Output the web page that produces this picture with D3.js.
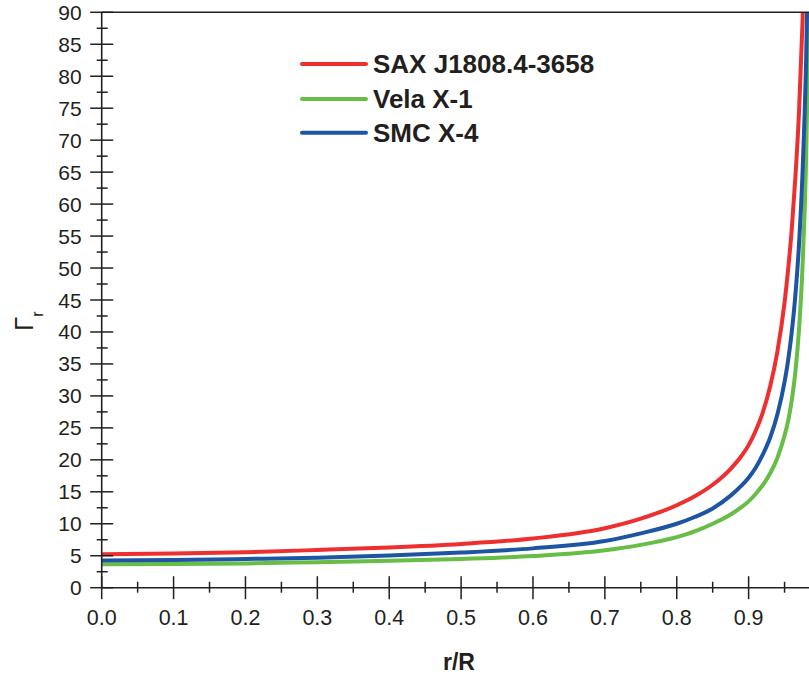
<!DOCTYPE html>
<html>
<head>
<meta charset="utf-8">
<script src="https://cdn.jsdelivr.net/npm/d3@7"></script>
<style>
  body { margin: 0; background: #fff; }
  text { font-family: Arial, "Liberation Sans", sans-serif; fill: #231f20; }
</style>
</head>
<body>
<svg id="canvas"></svg>
<script>
// r/R grid and Gamma_r
const rGrid = [0, 0.1, 0.2, 0.3, 0.4, 0.5, 0.6, 0.7, 0.75, 0.8, 0.825, 0.85, 0.875, 0.89, 0.9, 0.91, 0.92, 0.93, 0.94, 0.95, 0.955, 0.96, 0.965, 0.97, 0.975, 0.98, 0.984]
const saxJ1808 = [5.25, 5.35, 5.55, 5.9, 6.3, 6.85, 7.7, 9.3, 10.8, 12.9, 14.3, 16.1, 18.6, 20.6, 22.3, 24.6, 27.5, 31.5, 36.9, 44.6, 49.8, 56.1, 64.1, 74.1, 88.5, 109, 133]
const velaX1 = [3.66, 3.7, 3.8, 4.0, 4.2, 4.5, 4.95, 5.85, 6.7, 7.9, 8.8, 10.0, 11.45, 12.6, 13.5, 14.7, 16.1, 17.9, 20.3, 23.8, 26.1, 29.3, 33.7, 40.2, 50.3, 67, 92]
const smcX4 = [4.25, 4.33, 4.5, 4.7, 5.05, 5.5, 6.15, 7.3, 8.5, 10.0, 11.06, 12.4, 14.4, 15.95, 17.2, 18.8, 20.9, 23.5, 27.1, 32.2, 35.6, 40, 45.7, 53.5, 64.9, 82.6, 106]

const seriesNames = ["SAX J1808.4-3658", "Vela X-1", "SMC X-4"]
const seriesColors = ["#ee2f30", "#67bd46", "#1d55a4"]
const seriesValues = [saxJ1808, velaX1, smcX4]

const yTicks = d3.range(0, 91, 5)
const xTicks = d3.range(0, 10).map(i => i / 10)

const width = 809
const height = 678
const plotLeft = 101.7, plotTop = 12.3, plotBottom = 587.7, plotRight = 809

const svg = d3.select("#canvas").attr("width", width).attr("height", height)

const x = d3.scaleLinear().domain([0, 0.984]).range([plotLeft, plotRight])
const y = d3.scaleLinear().domain([0, 90]).range([plotBottom, plotTop])

const ink = "#231f20"

svg.append("clipPath").attr("id", "plot")
  .append("rect")
  .attr("x", plotLeft).attr("y", plotTop)
  .attr("width", plotRight - plotLeft).attr("height", plotBottom - plotTop)

// curves
const line = d3.line()
  .x((d, i) => x(rGrid[i]))
  .y(d => y(d))
  .curve(d3.curveMonotoneX)

svg.append("g")
  .attr("clip-path", "url(#plot)")
  .selectAll("path")
  .data(seriesValues)
  .enter().append("path")
  .attr("d", d => line(d))
  .attr("fill", "none")
  .attr("stroke", (d, i) => seriesColors[i])
  .attr("stroke-width", 4)

// y axis, ticks crossing the line
const yAxis = svg.append("g").attr("transform", `translate(${plotLeft},0)`)
yAxis.append("line")
  .attr("x1", 0).attr("x2", 0).attr("y1", y(0)).attr("y2", y(90))
  .attr("stroke", ink).attr("stroke-width", 1.6)
yAxis.selectAll(".major").data(yTicks).enter().append("line")
  .attr("x1", -11.5).attr("x2", 11.5)
  .attr("y1", d => y(d)).attr("y2", d => y(d))
  .attr("stroke", ink).attr("stroke-width", 1.5)
yAxis.selectAll(".minor").data(yTicks.slice(0, -1).map(d => d + 2.5)).enter().append("line")
  .attr("x1", -5).attr("x2", 6)
  .attr("y1", d => y(d)).attr("y2", d => y(d))
  .attr("stroke", ink).attr("stroke-width", 1.5)
yAxis.selectAll("text").data(yTicks).enter().append("text")
  .attr("x", -20).attr("y", d => y(d) + 7.5)
  .attr("text-anchor", "end")
  .attr("font-size", 21)
  .text(d => d)

// x axis
const xAxis = svg.append("g").attr("transform", `translate(0,${plotBottom})`)
xAxis.append("line")
  .attr("x1", x(0)).attr("x2", plotRight).attr("y1", 0).attr("y2", 0)
  .attr("stroke", ink).attr("stroke-width", 1.6)
xAxis.selectAll(".major").data(xTicks).enter().append("line")
  .attr("x1", d => x(d)).attr("x2", d => x(d))
  .attr("y1", -11.5).attr("y2", 11.5)
  .attr("stroke", ink).attr("stroke-width", 1.5)
xAxis.selectAll(".minor").data(xTicks.map(d => d + 0.05)).enter().append("line")
  .attr("x1", d => x(d)).attr("x2", d => x(d))
  .attr("y1", -6).attr("y2", 5)
  .attr("stroke", ink).attr("stroke-width", 1.5)
xAxis.selectAll("text").data(xTicks).enter().append("text")
  .attr("x", d => x(d)).attr("y", 37.5)
  .attr("text-anchor", "middle")
  .attr("font-size", 21.5)
  .text(d => d.toFixed(1))

// top frame line
svg.append("line")
  .attr("x1", plotLeft).attr("x2", plotRight).attr("y1", plotTop).attr("y2", plotTop)
  .attr("stroke", ink).attr("stroke-width", 1.6)

// axis titles
svg.append("text")
  .attr("x", 459).attr("y", 670)
  .attr("text-anchor", "middle")
  .attr("font-size", 23).attr("font-weight", "bold")
  .text("r/R")

const yTitle = svg.append("text")
  .attr("transform", "translate(33,331) rotate(-90)")
  .attr("font-family", "'Liberation Serif', 'Times New Roman', serif")
yTitle.append("tspan").attr("font-size", 26).text("Γ")
yTitle.append("tspan").attr("font-size", 16).attr("dy", 10)
  .attr("font-family", "Arial, 'Liberation Sans', sans-serif").text("r")

// legend
const legendY = [64, 99, 132.7]
const legend = svg.append("g")
legend.selectAll("line").data(seriesNames).enter().append("line")
  .attr("x1", 302).attr("x2", 366)
  .attr("y1", (d, i) => legendY[i]).attr("y2", (d, i) => legendY[i])
  .attr("stroke", (d, i) => seriesColors[i])
  .attr("stroke-width", 4).attr("stroke-linecap", "round")
legend.selectAll("text").data(seriesNames).enter().append("text")
  .attr("x", 373).attr("y", (d, i) => legendY[i] + 9.3)
  .attr("font-size", 26).attr("font-weight", "bold")
  .text(d => d)
</script>
</body>
</html>
